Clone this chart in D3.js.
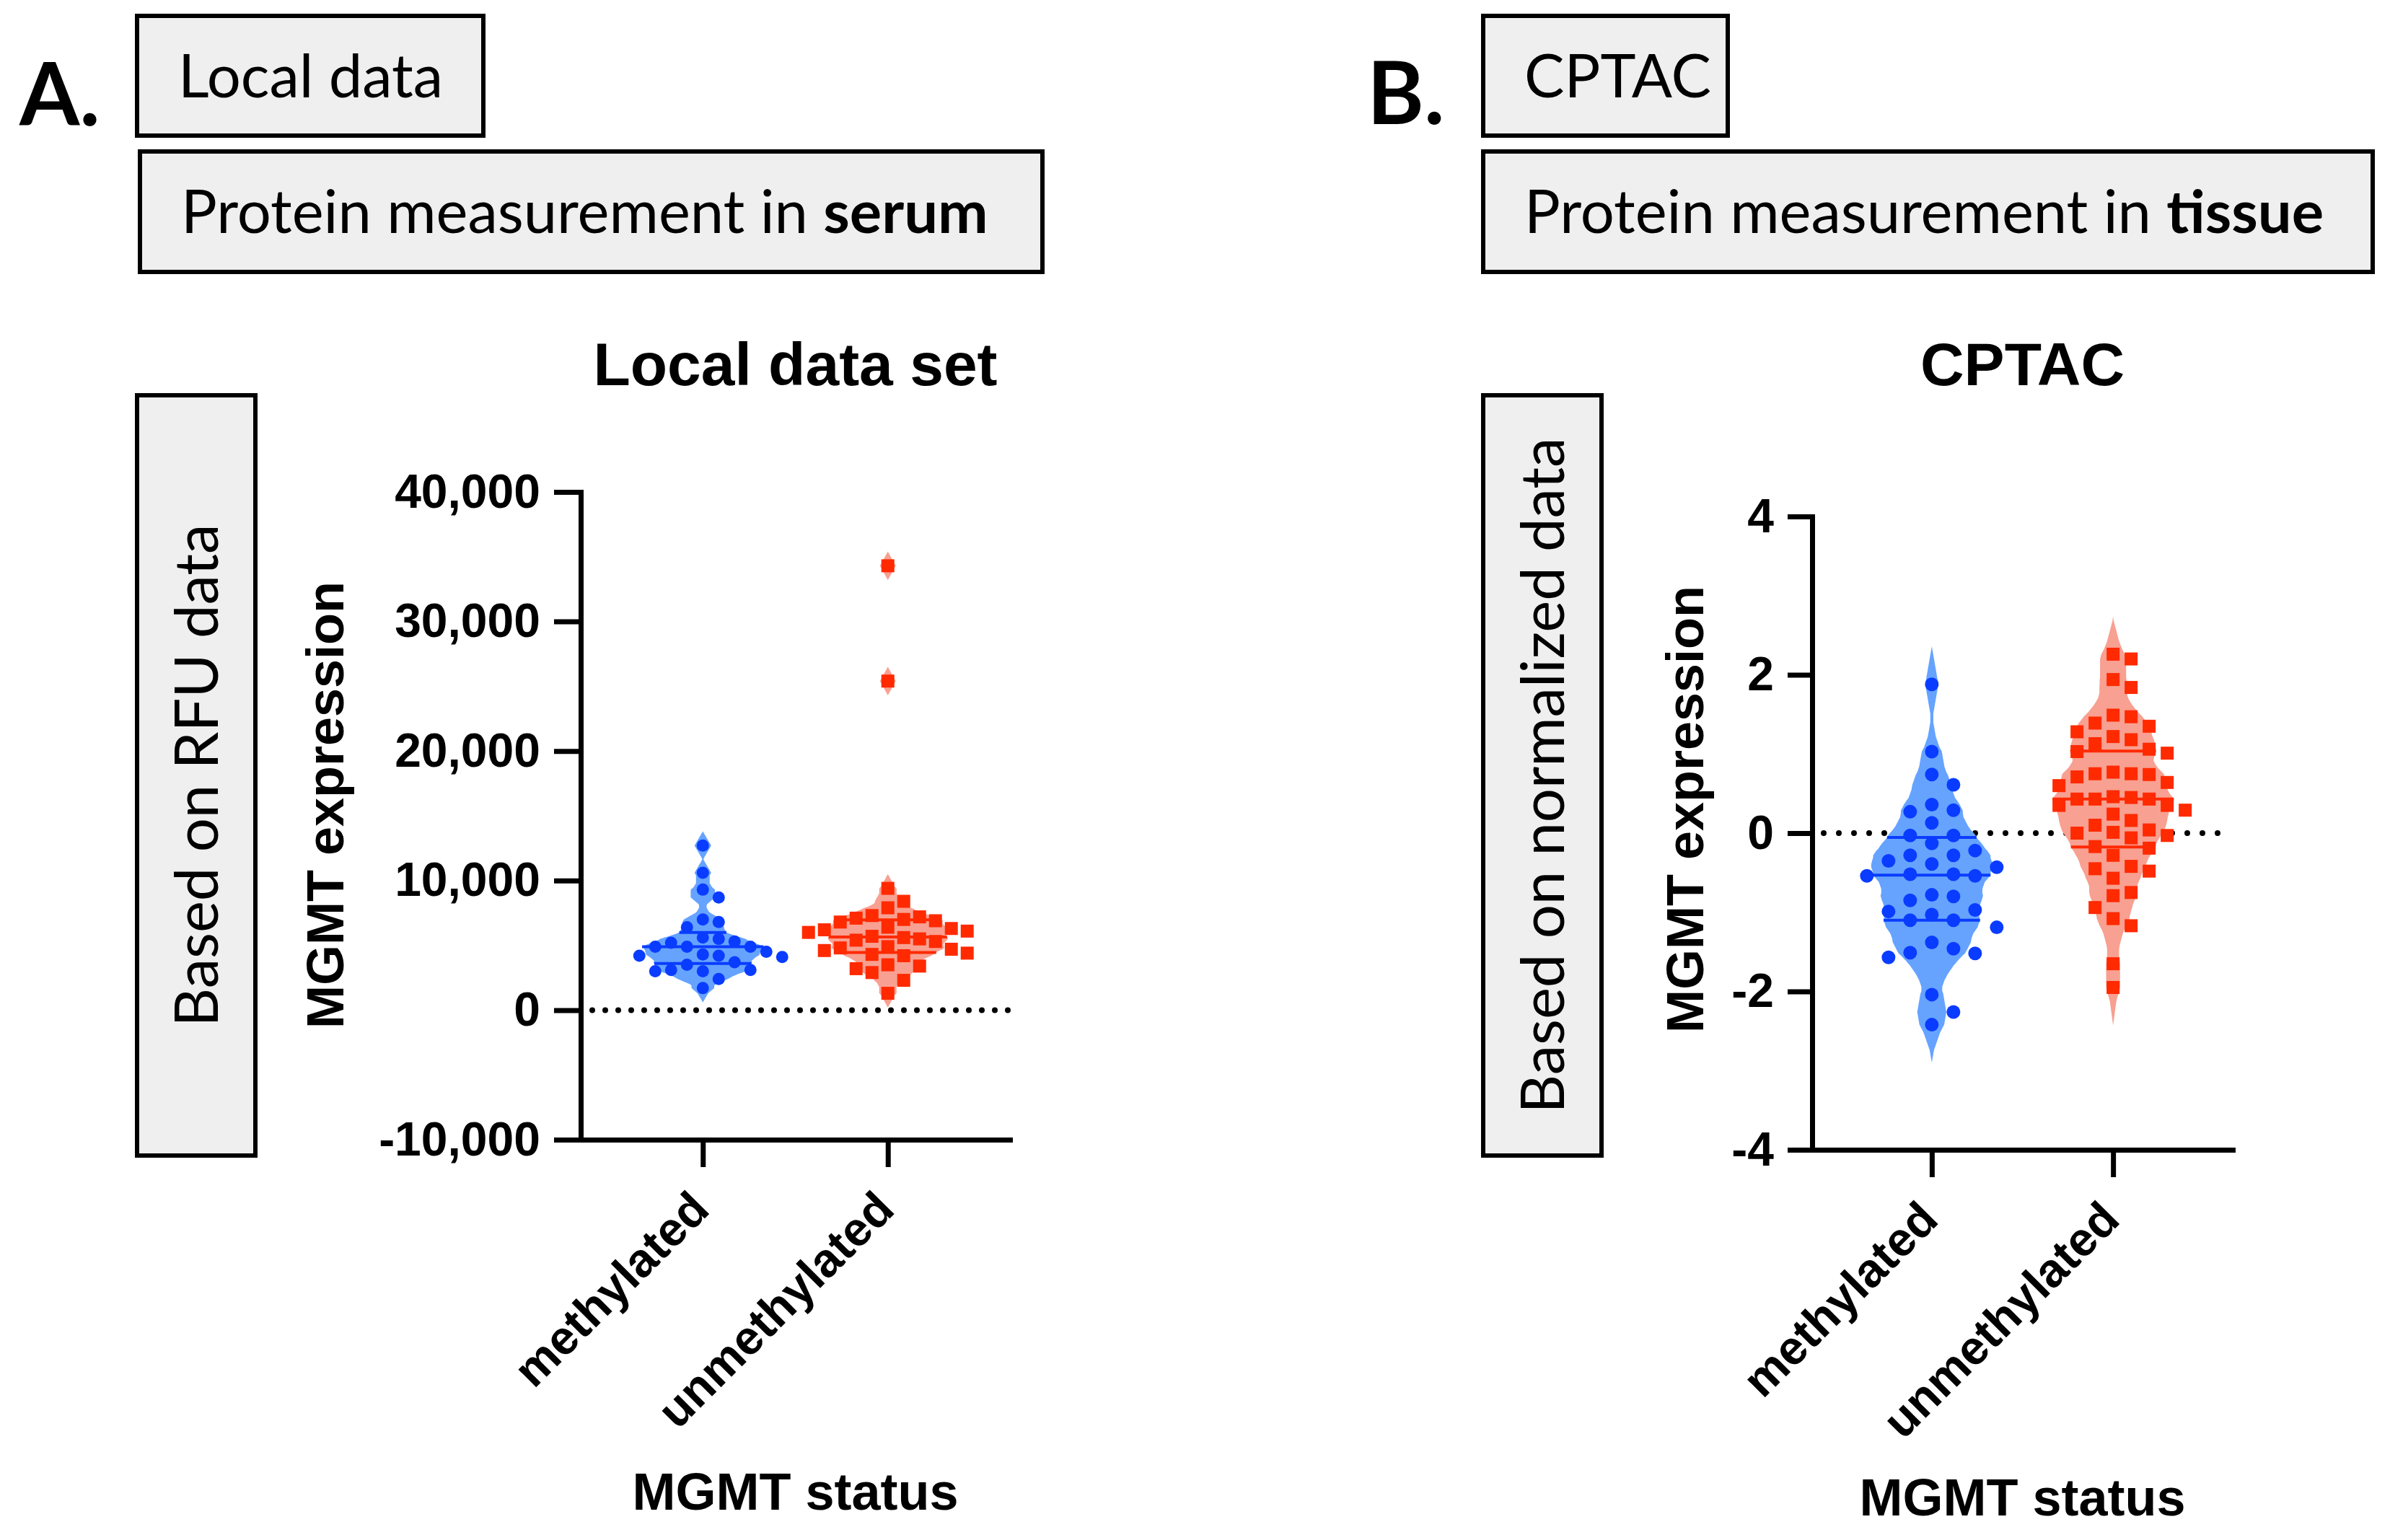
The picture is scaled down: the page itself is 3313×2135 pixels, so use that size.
<!DOCTYPE html>
<html>
<head>
<meta charset="utf-8">
<script src="https://cdn.jsdelivr.net/npm/d3@7"></script>
<style>
  html, body { margin: 0; padding: 0; background: #fff; }
  svg { display: block; }
</style>
</head>
<body>
<svg id="chart" width="3313" height="2135"></svg>
<script>
// values (one value per marker)
var groups = ["methylated", "unmethylated"];

var localMethylated = [12700, 10600, 9300, 8700, 7000, 6800, 6400, 5600, 5500, 5300, 5200,
    4900, 4900, 4900, 4500, 4300, 4200, 4200, 4100, 3700, 3500, 3100, 3100, 3000, 3000, 2400, 1700];
var localUnmethylated = [34300, 25400, 9400, 8400, 7900, 7300, 7200, 7100, 7000, 6900, 6800,
    6400, 6300, 6200, 6100, 6000, 5700, 5600, 5500, 5400, 5300, 4900, 4800, 4700, 4600,
    4400, 4300, 4200, 3500, 3400, 3200, 2900, 2300, 1300];

var cptacMethylated = [1.88, 1.03, 0.74, 0.61, 0.36, 0.29, 0.27, 0.13, -0.03, -0.03, -0.13,
    -0.22, -0.28, -0.28, -0.35, -0.43, -0.39, -0.54, -0.52, -0.52, -0.54, -0.80, -0.78, -0.85,
    -0.97, -0.99, -1.03, -1.10, -1.10, -1.19, -1.38, -1.46, -1.51, -1.52, -1.57, -2.04, -2.26, -2.42];
var cptacUnmethylated = [2.20, 2.26, 1.94, 1.84, 1.47, 1.49, 1.35, 1.39, 1.28, 1.18, 1.22, 1.13,
    1.06, 1.01, 1.03, 0.77, 0.75, 0.74, 0.75, 0.64, 0.71, 0.60, 0.43, 0.45, 0.43, 0.46, 0.43,
    0.35, 0.35, 0.29, 0.24, 0.16, 0.10, 0.04, 0.00, 0.01, -0.06, -0.03, -0.19, -0.17, -0.28,
    -0.42, -0.48, -0.45, -0.57, -0.75, -0.79, -0.94, -1.08, -1.17, -1.65, -1.95];

var localTicks = [-10000, 0, 10000, 20000, 30000, 40000];
var cptacTicks = [-4, -2, 0, 2, 4];

var pointColors = ["#0a3cff", "#ff2a00"];
var violinColors = ["#66a3ff", "#f8a091"];
var boxFill = "#efefef";

var locale = d3.formatLocale({decimal: ".", thousands: ",", grouping: [3], currency: ["", ""], minus: "-"});
var fmt = locale.format(",");

var panels = [
    {
        letter: "A.", letterX: 27, letterY: 174,
        tag: "Local data", tagBox: [190, 22, 480, 166],
        topic: ["Protein measurement in ", "serum"], topicBox: [194, 210, 1251, 167],
        side: "Based on RFU data", sideBox: [190, 548, 164, 1054],
        title: "Local data set",
        x0: 805, x1: 1400, yTop: 682, yBottom: 1580,
        domain: [-10000, 40000], ticks: localTicks, tickLen: 37,
        yLabelX: 476, yLabelY: 1116, xTitleY: 2093,
        series: [localMethylated, localUnmethylated],
        bw: 1100, spacing: [22, 22], marker: [17, 18], dotGap: 18
    },
    {
        letter: "B.", letterX: 1895, letterY: 172,
        tag: "CPTAC", tagBox: [2056, 22, 339, 166],
        topic: ["Protein measurement in ", "tissue"], topicBox: [2056, 210, 1233, 167],
        side: "Based on normalized data", sideBox: [2056, 548, 164, 1054],
        title: "CPTAC",
        x0: 2512, x1: 3095, yTop: 716, yBottom: 1594,
        domain: [-4, 4], ticks: cptacTicks, tickLen: 34,
        yLabelX: 2361, yLabelY: 1122, xTitleY: 2101,
        series: [cptacMethylated, cptacUnmethylated],
        bw: 0.48, spacing: [30, 25], marker: [19, 18], dotGap: 21
    }
];

var svg = d3.select("#chart");
svg.append("rect").attr("width", 3313).attr("height", 2135).attr("fill", "#fff");

var boxFont = "Lato, 'Open Sans', sans-serif";
var plotFont = "'Liberation Sans', Arial, Helvetica, sans-serif";

// size the box text so the serum line has the width it has in the original
var probe = svg.append("text").attr("font-family", boxFont).attr("font-size", 100);
probe.append("tspan").text("Protein measurement in ");
probe.append("tspan").attr("font-weight", 700).text("serum");
var boxSize = 100 * 1119 / probe.node().getComputedTextLength();
probe.remove();

function drawBox(b) {
    svg.append("rect")
        .attr("x", b[0]).attr("y", b[1])
        .attr("width", b[2]).attr("height", b[3])
        .attr("fill", boxFill)
        .attr("stroke", "#000")
        .attr("stroke-width", 6);
}

// triangular kernel: gives the pointed tips the original violins have
function density(values, h, v) {
    return d3.sum(values, function(d) { return Math.max(0, 1 - Math.abs(v - d) / h); });
}

function swarm(values, y, cx, step, size) {
    var placed = [];
    values.slice().sort(d3.descending).forEach(function(v) {
        var py = y(v);
        for (var k = 0; k < 60; k++) {
            var off = (k % 2 ? 1 : -1) * Math.ceil(k / 2) * step;
            var ok = placed.every(function(p) {
                return Math.abs(p.y - py) >= size * 1.3 || Math.abs(p.x - (cx + off)) >= step - 0.5;
            });
            if (ok) { placed.push({x: cx + off, y: py, v: v}); break; }
        }
    });
    return placed;
}

panels.forEach(function(p) {
    // panel letter and label boxes
    svg.append("text")
        .attr("x", p.letterX).attr("y", p.letterY)
        .attr("font-family", boxFont).attr("font-weight", 700)
        .attr("font-size", 120)
        .text(p.letter);

    drawBox(p.tagBox);
    svg.append("text")
        .attr("x", p.tagBox[0] + 57)
        .attr("y", p.tagBox[1] + p.tagBox[3] / 2 + boxSize * 0.36)
        .attr("font-family", boxFont).attr("font-size", boxSize)
        .text(p.tag);

    drawBox(p.topicBox);
    var tt = svg.append("text")
        .attr("x", p.topicBox[0] + 57)
        .attr("y", p.topicBox[1] + p.topicBox[3] / 2 + boxSize * 0.36)
        .attr("font-family", boxFont).attr("font-size", boxSize);
    tt.append("tspan").text(p.topic[0]);
    tt.append("tspan").attr("font-weight", 700).text(p.topic[1]);

    drawBox(p.sideBox);
    var scx = p.sideBox[0] + p.sideBox[2] / 2 + boxSize * 0.36;
    var scy = p.sideBox[1] + p.sideBox[3] / 2;
    svg.append("text")
        .attr("transform", "translate(" + scx + "," + scy + ") rotate(-90)")
        .attr("text-anchor", "middle")
        .attr("font-family", boxFont).attr("font-size", boxSize)
        .text(p.side);

    // scales
    var y = d3.scaleLinear().domain(p.domain).range([p.yBottom, p.yTop]);
    var x = d3.scalePoint().domain(groups).range([p.x0, p.x1]).padding(0.66);
    var cxMid = (p.x0 + p.x1) / 2;

    svg.append("text")
        .attr("x", cxMid).attr("y", 534)
        .attr("text-anchor", "middle")
        .attr("font-family", plotFont).attr("font-weight", 700)
        .attr("font-size", 84)
        .text(p.title);

    // zero reference line
    svg.append("line")
        .attr("x1", p.x0 + 16).attr("x2", p.x1)
        .attr("y1", y(0)).attr("y2", y(0))
        .attr("stroke", "#000")
        .attr("stroke-width", 8)
        .attr("stroke-linecap", "round")
        .attr("stroke-dasharray", "0," + p.dotGap);

    var halfW = 84;
    p.series.forEach(function(vals, i) {
        var cx = x(groups[i]);
        var ext = d3.extent(vals);
        var lo = ext[0] - p.bw, hi = ext[1] + p.bw;
        var grid = d3.range(801).map(function(k) { return lo + (hi - lo) * k / 800; });
        var dens = grid.map(function(v) { return [v, density(vals, p.bw, v)]; });
        var w = d3.scaleLinear().domain([0, d3.max(dens, function(d) { return d[1]; })]).range([0, halfW]);

        svg.append("path")
            .datum(dens)
            .attr("fill", violinColors[i])
            .attr("stroke", "none")
            .attr("d", d3.area()
                .y(function(d) { return y(d[0]); })
                .x0(function(d) { return cx - w(d[1]); })
                .x1(function(d) { return cx + w(d[1]); }));

        // median and quartiles
        var sorted = vals.slice().sort(d3.ascending);
        [0.25, 0.5, 0.75].forEach(function(q) {
            var qv = d3.quantile(sorted, q);
            var hw = w(density(vals, p.bw, qv));
            svg.append("line")
                .attr("x1", cx - hw).attr("x2", cx + hw)
                .attr("y1", y(qv)).attr("y2", y(qv))
                .attr("stroke", pointColors[i])
                .attr("stroke-width", 4);
        });

        var pts = swarm(vals, y, cx, p.spacing[i], p.marker[i]);
        var s = p.marker[i];
        if (i === 0) {
            svg.append("g").selectAll("circle")
                .data(pts).enter()
                .append("circle")
                .attr("cx", function(d) { return d.x; })
                .attr("cy", function(d) { return d.y; })
                .attr("r", s / 2)
                .attr("fill", pointColors[i]);
        } else {
            svg.append("g").selectAll("rect")
                .data(pts).enter()
                .append("rect")
                .attr("x", function(d) { return d.x - s / 2; })
                .attr("y", function(d) { return d.y - s / 2; })
                .attr("width", s).attr("height", s)
                .attr("fill", pointColors[i]);
        }
    });

    // axes
    var yAxis = svg.append("g")
        .attr("transform", "translate(" + p.x0 + ",0)")
        .call(d3.axisLeft(y).tickValues(p.ticks).tickFormat(fmt)
            .tickSize(p.tickLen).tickSizeOuter(0).tickPadding(19));
    var xAxis = svg.append("g")
        .attr("transform", "translate(0," + p.yBottom + ")")
        .call(d3.axisBottom(x).tickSize(38).tickSizeOuter(0).tickFormat(""));

    [yAxis, xAxis].forEach(function(a) {
        a.select(".domain").attr("stroke-width", 7).attr("stroke-linecap", "square");
        a.selectAll(".tick line").attr("stroke-width", 7);
    });
    yAxis.selectAll(".tick text")
        .attr("font-family", plotFont).attr("font-weight", 700)
        .attr("font-size", 66).attr("fill", "#000");

    svg.append("g").selectAll("text")
        .data(groups).enter()
        .append("text")
        .attr("transform", function(d) {
            return "translate(" + (x(d) + 12) + "," + (p.yBottom + 100) + ") rotate(-45)";
        })
        .attr("text-anchor", "end")
        .attr("font-family", plotFont).attr("font-weight", 700)
        .attr("font-size", 66)
        .text(function(d) { return d; });

    svg.append("text")
        .attr("transform", "translate(" + p.yLabelX + "," + p.yLabelY + ") rotate(-90)")
        .attr("text-anchor", "middle")
        .attr("font-family", plotFont).attr("font-weight", 700)
        .attr("font-size", 72)
        .text("MGMT expression");

    svg.append("text")
        .attr("x", cxMid).attr("y", p.xTitleY)
        .attr("text-anchor", "middle")
        .attr("font-family", plotFont).attr("font-weight", 700)
        .attr("font-size", 72)
        .text("MGMT status");
});
</script>
</body>
</html>
